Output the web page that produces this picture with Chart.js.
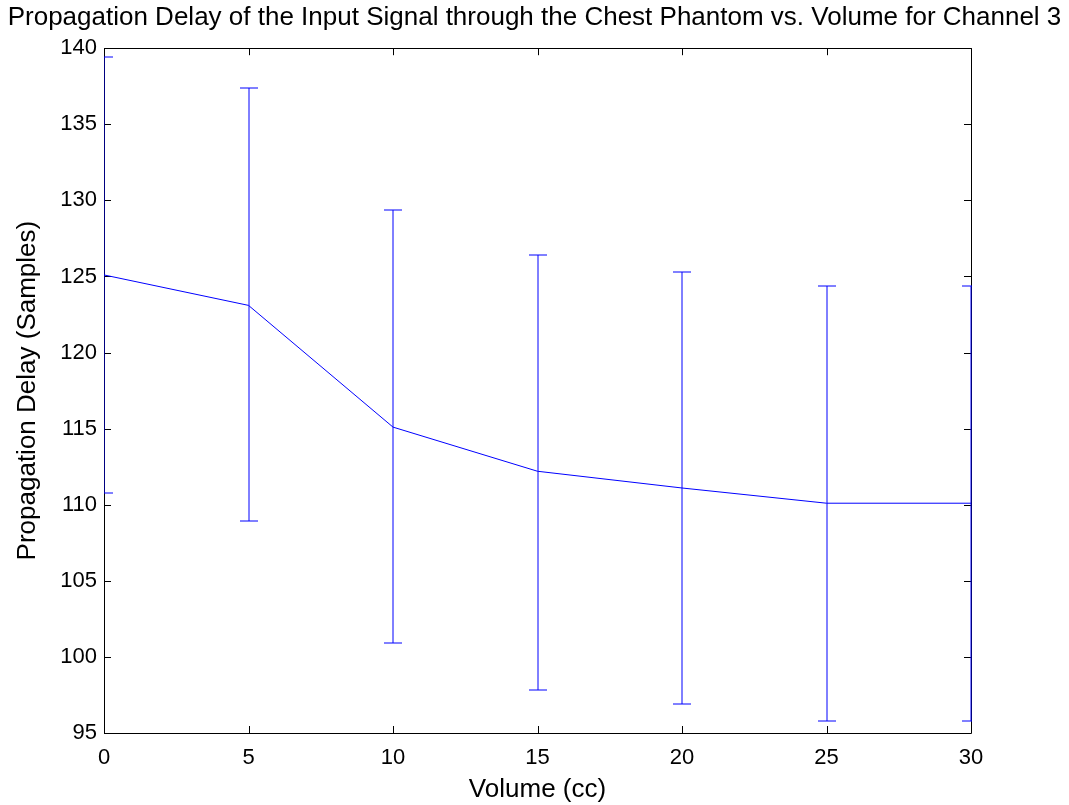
<!DOCTYPE html>
<html>
<head>
<meta charset="utf-8">
<script src="https://cdn.jsdelivr.net/npm/chart.js@4/dist/chart.umd.min.js"></script>
<style>
  body { margin: 0; background: #fff; }
  canvas { display: block; }
</style>
</head>
<body>
<canvas id="delayChart" width="1069" height="805"></canvas>
<script>
// Channel 3 propagation delay vs. phantom volume
const volumes = [0, 5, 10, 15, 20, 25, 30];
const meanDelay = [125.1, 123.1, 115.1, 112.2, 111.1, 110.1, 110.1];
const upperDelay = [139.4, 137.4, 129.4, 126.4, 125.3, 124.4, 124.4];
const lowerDelay = [110.8, 108.9, 100.9, 97.8, 96.9, 95.8, 95.8];
const yTicks = [95, 100, 105, 110, 115, 120, 125, 130, 135, 140];

const FONT = 'Liberation Sans, Arial, Helvetica, sans-serif';

// box around the axes with inward ticks on all four sides
const axesBox = {
    id: 'axesBox',
    beforeDatasetsDraw(chart) {
        const { ctx, chartArea: a, scales } = chart;
        const tl = 7;
        ctx.save();
        ctx.strokeStyle = '#000';
        ctx.lineWidth = 1;
        ctx.beginPath();
        ctx.rect(Math.round(a.left) + 0.5, Math.round(a.top) + 0.5,
                 Math.round(a.right - a.left), Math.round(a.bottom - a.top));
        scales.x.ticks.forEach(t => {
            const px = Math.round(scales.x.getPixelForValue(t.value)) + 0.5;
            ctx.moveTo(px, a.bottom); ctx.lineTo(px, a.bottom - tl);
            ctx.moveTo(px, a.top); ctx.lineTo(px, a.top + tl);
        });
        scales.y.ticks.forEach(t => {
            const py = Math.round(scales.y.getPixelForValue(t.value)) + 0.5;
            ctx.moveTo(a.left, py); ctx.lineTo(a.left + tl, py);
            ctx.moveTo(a.right, py); ctx.lineTo(a.right - tl, py);
        });
        ctx.stroke();
        ctx.restore();
    }
};

// vertical error bars with caps
const errorBars = {
    id: 'errorBars',
    afterDatasetsDraw(chart) {
        const { ctx, chartArea: a, scales } = chart;
        const cap = 9;
        ctx.save();
        ctx.beginPath();
        ctx.rect(a.left, a.top - 1, a.right - a.left + 1, a.bottom - a.top + 2);
        ctx.clip();
        ctx.strokeStyle = '#0000ff';
        ctx.lineWidth = 1;
        ctx.beginPath();
        volumes.forEach((v, i) => {
            const px = Math.round(scales.x.getPixelForValue(v));
            const yHi = Math.round(scales.y.getPixelForValue(upperDelay[i]));
            const yLo = Math.round(scales.y.getPixelForValue(lowerDelay[i]));
            ctx.moveTo(px, yHi); ctx.lineTo(px, yLo);
            ctx.moveTo(px - cap, yHi); ctx.lineTo(px + cap, yHi);
            ctx.moveTo(px - cap, yLo); ctx.lineTo(px + cap, yLo);
        });
        ctx.stroke();
        ctx.restore();
    }
};

const ctx = document.getElementById('delayChart').getContext('2d');
new Chart(ctx, {
    type: 'line',
    data: {
        datasets: [{
            data: volumes.map((v, i) => ({ x: v, y: meanDelay[i] })),
            borderColor: '#0000ff',
            borderWidth: 1,
            pointRadius: 0,
            tension: 0,
            fill: false
        }]
    },
    options: {
        responsive: false,
        animation: false,
        plugins: {
            legend: { display: false },
            tooltip: { enabled: false },
            title: {
                display: true,
                text: 'Propagation Delay of the Input Signal through the Chest Phantom vs. Volume for Channel 3',
                color: '#000',
                font: { family: FONT, size: 26, weight: 'normal', lineHeight: 1.2 },
                padding: { top: 2, bottom: 15 }
            }
        },
        scales: {
            x: {
                type: 'linear',
                min: 0,
                max: 30,
                afterFit: s => { s.height = 72; },
                grid: { display: false, drawTicks: false },
                border: { display: false },
                ticks: {
                    stepSize: 5,
                    color: '#000',
                    padding: 12,
                    maxRotation: 0,
                    font: { family: FONT, size: 22 }
                },
                title: {
                    display: true,
                    text: 'Volume (cc)',
                    color: '#000',
                    font: { family: FONT, size: 26 },
                    padding: { top: 0, bottom: 0 }
                }
            },
            y: {
                min: 95,
                max: 140,
                afterFit: s => { s.width = 104; },
                afterBuildTicks: s => { s.ticks = yTicks.map(v => ({ value: v })); },
                grid: { display: false, drawTicks: false },
                border: { display: false },
                ticks: {
                    color: '#000',
                    padding: 7,
                    font: { family: FONT, size: 22 }
                },
                title: {
                    display: true,
                    text: 'Propagation Delay (Samples)',
                    color: '#000',
                    font: { family: FONT, size: 26 },
                    padding: { top: 12, bottom: 0 }
                }
            },
            // empty right-hand axis that only reserves the margin
            yRight: {
                position: 'right',
                min: 95,
                max: 140,
                afterFit: s => { s.width = 98; },
                grid: { display: false, drawTicks: false },
                border: { display: false },
                ticks: { display: false }
            }
        }
    },
    plugins: [axesBox, errorBars]
});
</script>
</body>
</html>
